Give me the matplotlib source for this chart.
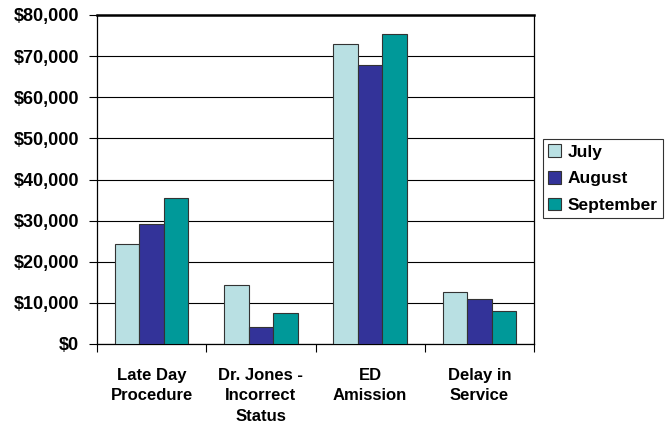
import matplotlib.pyplot as plt
import numpy as np
from matplotlib.ticker import FuncFormatter, MultipleLocator

plt.rcParams["font.family"] = ["Liberation Sans", "DejaVu Sans"]
plt.rcParams["font.weight"] = "bold"

categories = ["Late Day\nProcedure", "Dr. Jones -\nIncorrect\nStatus", "ED\nAmission", "Delay in\nService"]
months = ["July", "August", "September"]
july = [24400, 14400, 73000, 12700]
august = [29300, 4100, 67900, 11000]
september = [35600, 7500, 75500, 8000]

colors = ["#B9E0E3", "#333399", "#009999"]

fig = plt.figure(figsize=(6.66, 4.33), dpi=100)
ax = fig.add_axes([97 / 666, 1 - 344 / 433, (534 - 97) / 666, (344 - 15) / 433])

x = np.arange(len(categories))
w = 0.225
for i, (vals, name) in enumerate(zip([july, august, september], months)):
    ax.bar(x + (i - 1) * w, vals, width=w, color=colors[i], edgecolor="#333333",
           linewidth=0.8, label=name, zorder=3)

ax.set_xlim(-0.5, len(categories) - 0.5)
ax.set_ylim(0, 80000)
ax.yaxis.set_major_locator(MultipleLocator(10000))
ax.yaxis.set_major_formatter(FuncFormatter(lambda v, p: f"${v:,.0f}"))
ax.grid(axis="y", color="black", linewidth=0.8, zorder=0)

# dividers between categories as major ticks, names as minor ticks
ax.set_xticks(np.arange(len(categories) + 1) - 0.5, minor=False)
ax.set_xticklabels([])
ax.set_xticks(x, minor=True)
ax.set_xticklabels(categories, minor=True, fontsize=12, fontweight="bold", linespacing=1.47)
ax.tick_params(axis="x", which="minor", length=0, pad=17)
ax.tick_params(axis="x", which="major", length=6, width=0.8, direction="out")
ax.tick_params(axis="y", length=6, width=0.8, direction="out", labelsize=13, pad=7)
for lbl in ax.get_yticklabels():
    lbl.set_fontweight("bold")

for s in ["left", "bottom", "right"]:
    ax.spines[s].set_linewidth(0.9)
    ax.spines[s].set_color("black")
ax.spines["top"].set_linewidth(1.8)

leg = fig.legend(loc="upper left", bbox_to_anchor=(543 / 666, 1 - 139 / 433),
                 frameon=True, fancybox=False, edgecolor="black", fontsize=12.5,
                 handlelength=0.75, handleheight=0.75, handletextpad=0.35,
                 labelspacing=0.65, borderpad=0.3, borderaxespad=0)
leg.get_frame().set_linewidth(0.8)
for t in leg.get_texts():
    t.set_fontweight("bold")

fig.savefig("out.png", dpi=100)
